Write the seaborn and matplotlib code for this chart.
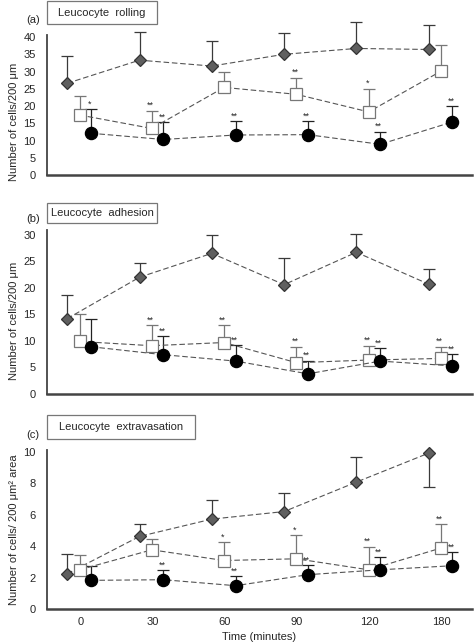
import matplotlib
matplotlib.use("Agg")
import matplotlib.pyplot as plt
from matplotlib.patches import Rectangle
import seaborn as sns
import numpy as np

# time points (minutes)
times = ["0", "30", "60", "90", "120", "180"]

# (a) leucocyte rolling, cells/200 um
roll_diamond = [26.6, 33.3, 31.6, 35.0, 36.7, 36.4]
roll_diamond_err = [8.0, 8.2, 7.3, 6.1, 7.7, 7.0]
roll_square = [17.4, 13.5, 25.4, 23.4, 18.3, 30.1]
roll_square_err = [5.6, 5.2, 4.6, 4.8, 6.7, 7.5]
roll_circle = [12.1, 10.3, 11.6, 11.7, 8.9, 15.4]
roll_circle_err = [6.9, 5.0, 4.0, 3.9, 3.7, 4.6]
roll_square_sig = ["", "**", "", "**", "*", ""]
roll_circle_sig = ["*", "**", "**", "**", "**", "**"]

# (b) leucocyte adhesion, cells/200 um
adh_diamond = [14.2, 22.0, 26.5, 20.6, 26.7, 20.7]
adh_diamond_err = [4.4, 2.7, 3.4, 5.0, 3.5, 2.9]
adh_square = [9.9, 9.1, 9.7, 5.9, 6.4, 6.7]
adh_square_err = [5.2, 3.9, 3.3, 3.0, 2.7, 2.2]
adh_circle = [8.9, 7.4, 6.2, 3.8, 6.2, 5.3]
adh_circle_err = [5.3, 3.5, 3.0, 2.5, 2.4, 2.2]
adh_square_sig = ["", "**", "**", "**", "**", "**"]
adh_circle_sig = ["", "**", "**", "**", "**", "**"]

# (c) leucocyte extravasation, cells/200 um^2 area (negative err = bar drawn downwards)
ext_diamond = [2.24, 4.61, 5.71, 6.19, 8.06, 9.90]
ext_diamond_err = [1.25, 0.80, 1.23, 1.21, 1.62, -2.16]
ext_square = [2.49, 3.76, 3.08, 3.19, 2.49, 3.87]
ext_square_err = [0.91, 0.68, 1.15, 1.48, 1.48, 1.52]
ext_circle = [1.82, 1.86, 1.48, 2.18, 2.49, 2.75]
ext_circle_err = [0.88, 0.59, 0.59, 0.59, 0.81, 0.84]
ext_square_sig = ["", "", "*", "*", "**", "**"]
ext_circle_sig = ["", "**", "**", "**", "**", "**"]

sns.set_style("white")
plt.rcParams["font.family"] = ["Liberation Sans", "DejaVu Sans"]

W, H = 477, 644
fig = plt.figure(figsize=(W / 100, H / 100), dpi=100)

idx = np.arange(len(times))
series_style = {
    "diamond": dict(marker="D", ms=6, mfc="#5f5f5f", mec="#333333", off=-0.18, ecol="#3a3a3a"),
    "square": dict(marker="s", ms=8, mfc="white", mec="#777777", off=-0.01, ecol="#777777"),
    "circle": dict(marker="o", ms=8.8, mfc="black", mec="black", off=0.15, ecol="#222222"),
}


def px_axes(left, top, right, bottom):
    return fig.add_axes([left / W, 1 - bottom / H, (right - left) / W, (bottom - top) / H])


def draw_series(ax, kind, means, errs, sig=None):
    st = series_style[kind]
    xs = idx + st["off"]
    errs = np.array(errs)
    lo = np.where(errs < 0, -errs, 0)
    up = np.where(errs > 0, errs, 0)
    eb = ax.errorbar(xs, means, yerr=[lo, up], fmt="none", ecolor=st["ecol"],
                     elinewidth=0.9, capsize=4.3, capthick=0.9, zorder=2)
    for art in eb.get_children():
        art.set_clip_on(False)
    sns.lineplot(x=xs, y=means, ax=ax, color="#555555", linewidth=0.8,
                 linestyle=(0, (5, 2.5)), marker=st["marker"], markersize=st["ms"],
                 markerfacecolor=st["mfc"], markeredgecolor=st["mec"],
                 markeredgewidth=0.9, zorder=3, clip_on=False)
    if sig:
        for x, m, u, s in zip(xs, means, up, sig):
            if s:
                ax.annotate(s, (x, m + u), xytext=(-1, 0.5), textcoords="offset points",
                            ha="center", va="bottom", fontsize=6.5)


def style_axes(ax, ymax, step, ylabel, label_y):
    ax.set_xlim(-0.46, 5.42)
    ax.set_ylim(0, ymax)
    ax.set_yticks(np.arange(0, ymax + 0.01, step))
    ax.tick_params(axis="y", length=0, labelsize=8, pad=8)
    ax.tick_params(axis="x", length=0, labelsize=8, pad=6)
    ax.set_xticks(idx)
    sns.despine(ax=ax)
    ax.spines["left"].set_color("#444444")
    ax.spines["left"].set_linewidth(1.3)
    ax.spines["bottom"].set_color("#444444")
    ax.spines["bottom"].set_linewidth(1.8)
    ax.set_ylabel(ylabel, fontsize=8)
    ax.yaxis.set_label_coords(-0.066, label_y)


def title_box(left, top, right, bottom, text, tag):
    fig.add_artist(Rectangle((left / W, 1 - bottom / H), (right - left) / W, (bottom - top) / H,
                             transform=fig.transFigure, facecolor="white",
                             edgecolor="#777777", linewidth=0.9))
    fig.text((left + right) / 2 / W, 1 - (top + bottom) / 2 / H, text,
             ha="center", va="center", fontsize=8)
    fig.text(33 / W, 1 - (bottom - 4) / H, tag, ha="center", va="center", fontsize=8)


# (a)
ax_a = px_axes(47, 35, 472, 175)
draw_series(ax_a, "diamond", roll_diamond, roll_diamond_err)
draw_series(ax_a, "square", roll_square, roll_square_err, roll_square_sig)
draw_series(ax_a, "circle", roll_circle, roll_circle_err, roll_circle_sig)
style_axes(ax_a, 40.6, 5, "Number of cells/200 μm", 0.38)
ax_a.set_xticklabels([])
title_box(47, 1, 157, 24, "Leucocyte  rolling", "(a)")

# (b)
ax_b = px_axes(47, 230, 472, 394)
draw_series(ax_b, "diamond", adh_diamond, adh_diamond_err)
draw_series(ax_b, "square", adh_square, adh_square_err, adh_square_sig)
draw_series(ax_b, "circle", adh_circle, adh_circle_err, adh_circle_sig)
style_axes(ax_b, 30.9, 5, "Number of cells/200 μm", 0.445)
ax_b.set_xticklabels([])
title_box(47, 203, 157, 223, "Leucocyte  adhesion", "(b)")

# (c)
ax_c = px_axes(47, 450, 472, 609)
draw_series(ax_c, "diamond", ext_diamond, ext_diamond_err)
draw_series(ax_c, "square", ext_square, ext_square_err, ext_square_sig)
draw_series(ax_c, "circle", ext_circle, ext_circle_err, ext_circle_sig)
style_axes(ax_c, 10.1, 2, "Number of cells/ 200 μm² area", 0.5)
ax_c.set_xticklabels(times)
ax_c.set_xlabel("Time (minutes)", fontsize=8, labelpad=3)
title_box(47, 415, 195, 439, "Leucocyte  extravasation", "(c)")

fig.savefig("out.png", dpi=100)
